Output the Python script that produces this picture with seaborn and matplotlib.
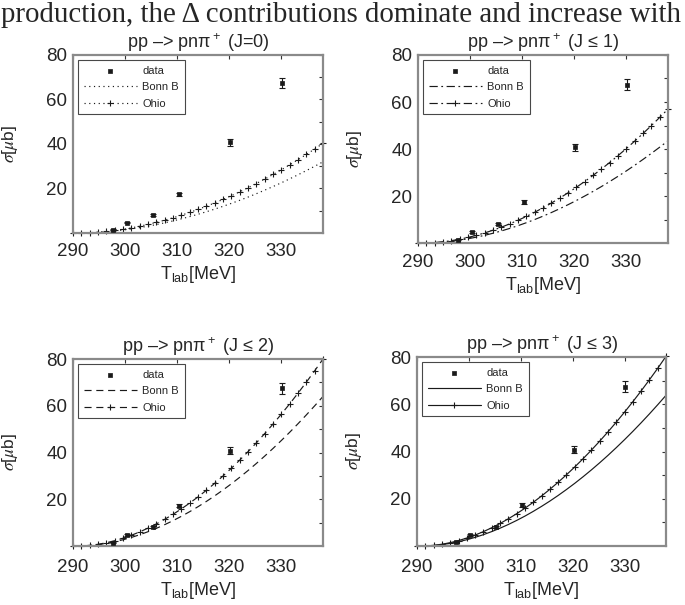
import matplotlib
matplotlib.use("Agg")
import matplotlib.pyplot as plt
import seaborn as sns
from matplotlib.ticker import FixedLocator, NullFormatter

# Energy grid of the model curves (MeV)
t_grid = [290.0, 291.6, 293.2, 294.8, 296.4, 298.0, 299.6, 301.2, 302.8, 304.4,
          306.0, 307.6, 309.2, 310.8, 312.4, 314.0, 315.6, 317.2, 318.8, 320.4,
          322.0, 323.6, 325.2, 326.8, 328.4, 330.0, 331.6, 333.2, 334.8, 336.4, 338.0]

# measured cross sections
data_t = [297.6, 300.3, 305.3, 310.3, 320.2, 330.1]
data_sigma = [1.5, 4.7, 8.1, 17.3, 40.7, 67.4]
data_err = [0.3, 0.4, 0.5, 0.8, 1.5, 2.4]

bonn_j0 = [0, 0.01, 0.11, 0.29, 0.56, 0.91, 1.34, 1.84, 2.41, 3.06, 3.78, 4.57, 5.43, 6.35, 7.35, 8.41,
           9.54, 10.73, 11.99, 13.31, 14.69, 16.14, 17.66, 19.24, 20.87, 22.57, 24.34, 26.16, 28.05, 29.99, 32.0]
ohio_j0 = [0, 0.01, 0.13, 0.37, 0.71, 1.14, 1.68, 2.31, 3.04, 3.86, 4.76, 5.75, 6.83, 8.00, 9.25, 10.59,
           12.01, 13.51, 15.10, 16.76, 18.51, 20.33, 22.24, 24.22, 26.29, 28.43, 30.65, 32.95, 35.32, 37.77, 40.3]
bonn_j1 = [0, 0.01, 0.14, 0.40, 0.76, 1.24, 1.82, 2.50, 3.28, 4.16, 5.14, 6.21, 7.38, 8.64, 9.99, 11.43,
           12.96, 14.59, 16.30, 18.09, 19.98, 21.95, 24.00, 26.15, 28.38, 30.68, 33.08, 35.57, 38.13, 40.77, 43.5]
ohio_j1 = [0, 0.02, 0.19, 0.52, 1.00, 1.62, 2.38, 3.27, 4.30, 5.45, 6.73, 8.14, 9.67, 11.31, 13.09, 14.98,
           16.99, 19.11, 21.35, 23.71, 26.17, 28.76, 31.45, 34.26, 37.18, 40.21, 43.35, 46.60, 49.96, 53.43, 57.0]
bonn_j2 = [0, 0.02, 0.21, 0.58, 1.12, 1.82, 2.68, 3.67, 4.83, 6.12, 7.56, 9.14, 10.85, 12.70, 14.69, 16.82,
           19.07, 21.46, 23.97, 26.62, 29.39, 32.29, 35.32, 38.47, 41.75, 45.15, 48.67, 52.33, 56.10, 59.99, 64.0]
ohio_j2 = [0, 0.02, 0.26, 0.73, 1.40, 2.27, 3.34, 4.59, 6.03, 7.66, 9.45, 11.42, 13.57, 15.88, 18.37, 21.02,
           23.84, 26.82, 29.97, 33.27, 36.74, 40.36, 44.14, 48.09, 52.18, 56.43, 60.84, 65.41, 70.12, 74.98, 80.0]
bonn_j3 = [0, 0.02, 0.21, 0.58, 1.12, 1.81, 2.67, 3.66, 4.81, 6.11, 7.54, 9.11, 10.82, 12.66, 14.65, 16.77,
           19.01, 21.39, 23.90, 26.53, 29.30, 32.19, 35.21, 38.35, 41.62, 45.01, 48.52, 52.16, 55.92, 59.80, 63.8]
ohio_j3 = [0, 0.02, 0.27, 0.74, 1.42, 2.30, 3.38, 4.64, 6.09, 7.73, 9.53, 11.51, 13.67, 16.00, 18.50, 21.16,
           23.99, 26.98, 30.14, 33.45, 36.93, 40.56, 44.35, 48.30, 52.40, 56.66, 61.07, 65.64, 70.36, 75.22, 80.3]

panels = [
    ("(J=0)", bonn_j0, ohio_j0, (0, (1, 3))),
    ("(J \u2264 1)", bonn_j1, ohio_j1, (0, (7, 3, 1.5, 3))),
    ("(J \u2264 2)", bonn_j2, ohio_j2, (0, (6, 4))),
    ("(J \u2264 3)", bonn_j3, ohio_j3, "-"),
]

# axes boxes in figure fractions (left, bottom, width, height)
boxes = [
    (0.1066, 0.6149, 0.3650, 0.2942),
    (0.6102, 0.5983, 0.3650, 0.3108),
    (0.1066, 0.0975, 0.3650, 0.3091),
    (0.6088, 0.0975, 0.3635, 0.3124),
]
xpads = [7, 8, 9, 9]

sns.set_theme(style="white")
plt.rcParams["font.family"] = ["Liberation Sans", "DejaVu Sans"]
plt.rcParams["mathtext.fontset"] = "custom"
plt.rcParams["mathtext.rm"] = "Liberation Sans"
plt.rcParams["mathtext.it"] = "Liberation Sans:italic"

fig = plt.figure(figsize=(6.85, 6.05), dpi=100)

fig.text(0.001, 1 - 22 / 605, "production, the \u0394 contributions dominate and increase with",
         fontsize=20.8, family="Liberation Serif", va="baseline", ha="left")

for (label, bonn, ohio, ls), box, xp in zip(panels, boxes, xpads):
    ax = fig.add_axes(box)

    sns.scatterplot(x=data_t, y=data_sigma, ax=ax, color="k", marker="s", s=8,
                    edgecolor="k", linewidth=0.5, label="data", zorder=5)
    ax.errorbar(data_t, data_sigma, yerr=data_err, fmt="none", ecolor="k",
                elinewidth=0.8, capsize=2, capthick=0.8, zorder=4)
    sns.lineplot(x=t_grid, y=bonn, ax=ax, color="k", linestyle=ls, linewidth=0.85,
                 label="Bonn B", sort=False)
    sns.lineplot(x=t_grid, y=ohio, ax=ax, color="k", linestyle=ls, linewidth=0.85,
                 marker="+", markersize=5, markeredgewidth=0.8, markeredgecolor="k",
                 label="Ohio", sort=False, clip_on=False)

    ax.set_xlim(290, 338)
    ax.set_ylim(0, 80)
    ax.set_xticks([290, 300, 310, 320, 330])
    ax.set_yticks([20, 40, 60, 80])
    ax.yaxis.set_minor_locator(FixedLocator([10, 30, 50, 70]))
    ax.yaxis.set_minor_formatter(NullFormatter())
    ax.tick_params(which="both", direction="in", top=True, right=True,
                   labelsize=13.5, color="#333333", width=0.8, length=3)
    ax.tick_params(axis="x", pad=xp)
    ax.tick_params(axis="y", pad=4)
    for sp in ax.spines.values():
        sp.set_color("#8a8a8a")
        sp.set_linewidth(1.6)

    ax.set_title("pp \u2013> pn\u03c0$^+$ " + label, fontsize=13, pad=5)
    ax.set_xlabel("T$_{\\rm lab}$[MeV]", fontsize=13, labelpad=3)
    ax.set_ylabel("$\\sigma$[$\\mu$b]", fontsize=12.5, labelpad=19, math_fontfamily="stix")

    leg = ax.legend(loc="upper left", fontsize=8, frameon=True, fancybox=False,
                    edgecolor="k", borderaxespad=0.45, handlelength=4.8,
                    handletextpad=0.5, borderpad=0.5, labelspacing=0.6,
                    numpoints=1, scatterpoints=1)
    leg.get_frame().set_linewidth(0.8)

fig.savefig("out.png", dpi=100)
